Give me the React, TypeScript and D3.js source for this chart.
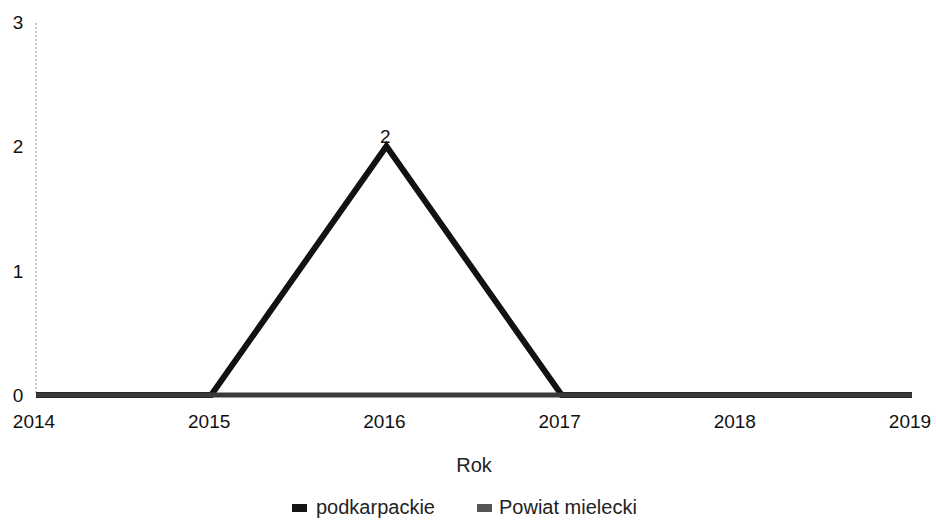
import React from "react";
import * as d3 from "d3";

const years = [2014, 2015, 2016, 2017, 2018, 2019];
const podkarpackie = [0, 0, 2, 0, 0, 0];
const powiatMielecki = [0, 0, 0, 0, 0, 0];
const yTicks = [0, 1, 2, 3];
const seriesNames = ["podkarpackie", "Powiat mielecki"];

export default function App() {
  const W = 936, H = 522;
  const x = d3.scaleLinear().domain([2014, 2019]).range([36, 912]);
  const y = d3.scaleLinear().domain([0, 3]).range([395, 22]);
  const line = d3.line<number>().x((_, i) => x(years[i])).y((d) => y(d));
  const peakIdx = podkarpackie.indexOf(d3.max(podkarpackie)!);
  const font = "'Liberation Sans', Arial, sans-serif";
  return (
    <svg width={W} height={H} style={{ position: "absolute", left: 0, top: 0 }} fontFamily={font}>
      <rect width={W} height={H} fill="#fff" />
      <line x1={36} x2={36} y1={y(3) + 1} y2={y(0)} stroke="#888" strokeWidth={1} strokeDasharray="2,2" />
      {yTicks.map((t) => (
        <text key={t} x={18} y={y(t) + 7} fontSize={19} textAnchor="middle" fill="#111">{t}</text>
      ))}
      {years.map((yr) => (
        <text key={yr} x={x(yr) - 2} y={428} fontSize={19} textAnchor="middle" fill="#111">{yr}</text>
      ))}
      <path d={line(podkarpackie)!} fill="none" stroke="#121212" strokeWidth={6} strokeLinejoin="miter" />
      <path d={line(powiatMielecki)!} fill="none" stroke="#3a3a3a" strokeWidth={5} />
      <text x={x(years[peakIdx]) - 1} y={y(podkarpackie[peakIdx]) - 3} fontSize={19} textAnchor="middle" fill="#111">
        {podkarpackie[peakIdx]}
      </text>
      <text x={474} y={472} fontSize={20} textAnchor="middle" fill="#222">Rok</text>
      <rect x={292} y={504} width={15} height={8} fill="#151515" />
      <text x={316} y={514} fontSize={20} fill="#222">{seriesNames[0]}</text>
      <rect x={477} y={504} width={15} height={8} fill="#555" />
      <text x={499} y={514} fontSize={20} fill="#222">{seriesNames[1]}</text>
    </svg>
  );
}
